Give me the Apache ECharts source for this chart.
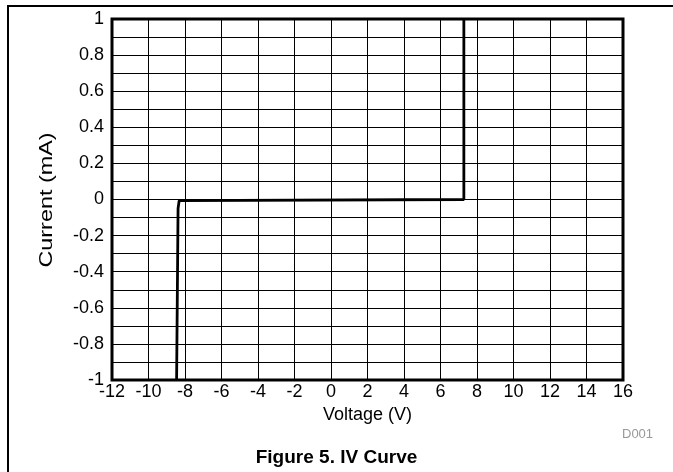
<!DOCTYPE html>
<html>
<head>
<meta charset="utf-8">
<script src="https://cdn.jsdelivr.net/npm/echarts@6/dist/echarts.min.js"></script>
<style>
html,body{margin:0;padding:0;background:#fff;}
#topline{position:absolute;left:8px;top:5px;width:665px;height:2px;background:#000;}
#leftline{position:absolute;left:7px;top:5px;width:2px;height:467px;background:#000;}
#chart{position:absolute;left:0;top:0;width:673px;height:472px;}
</style>
</head>
<body>
<div id="chart"></div>
<div id="topline"></div>
<div id="leftline"></div>
<script>
const voltage = [-8.46, -8.38, -8.32, -8.26, 7.28, 7.28];
const current = [-1, -0.05, -0.006, 0, 0, 1];
const xTicks = ['-12','-10','-8','-6','-4','-2','0','2','4','6','8','10','12','14','16'];
const yTicks = ['-1','-0.8','-0.6','-0.4','-0.2','0','0.2','0.4','0.6','0.8','1'];
const xTitle = 'Voltage (V)';
const yTitle = 'Current (mA)';
const figTitle = 'Figure 5. IV Curve';
const figId = 'D001';

const chart = echarts.init(document.getElementById('chart'), null, {renderer:'canvas'});
const font = 'Liberation Sans, Arial, sans-serif';
chart.setOption({
  animation:false,
  backgroundColor:'#fff',
  textStyle:{fontFamily:font},
  title:[
    {text:figTitle, left:'center', top:443, textStyle:{fontFamily:font, fontSize:19, fontWeight:'bold', color:'#000'}},
    {text:figId, left:617, top:423, textStyle:{fontFamily:font, fontSize:13, fontWeight:'normal', color:'#999'}}
  ],
  graphic:[{
    type:'text', x:47, y:200, rotation:Math.PI/2, scaleX:1.3,
    style:{text:yTitle, fill:'#000', font:'18px ' + font, align:'center', verticalAlign:'middle'}
  }],
  grid:{left:112, right:50, top:19, bottom:92, show:true, borderColor:'#000', borderWidth:3, backgroundColor:'transparent'},
  xAxis:{
    type:'value', min:-12, max:16, interval:2,
    name:xTitle, nameLocation:'middle', nameGap:23,
    nameTextStyle:{fontFamily:font, fontSize:18, color:'#000'},
    axisLine:{show:false}, axisTick:{show:false},
    axisLabel:{fontFamily:font, fontSize:18, color:'#000', margin:3,
      formatter:function(v){ const i = Math.round((v+12)/2); return xTicks[i]; }},
    splitLine:{show:true, lineStyle:{color:'#000', width:1}}
  },
  yAxis:{
    type:'value', min:-1, max:1, interval:0.2,
    axisLine:{show:false}, axisTick:{show:false},
    axisLabel:{fontFamily:font, fontSize:18, color:'#000', margin:8,
      formatter:function(v){ const i = Math.round((v+1)/0.2); return yTicks[i]; }},
    splitLine:{show:true, lineStyle:{color:'#000', width:1}},
    minorTick:{show:false, splitNumber:2},
    minorSplitLine:{show:true, lineStyle:{color:'#000', width:1}}
  },
  series:[{
    type:'line',
    data:voltage.map((v,i)=>[v,current[i]]),
    showSymbol:false, symbol:'none',
    lineStyle:{color:'#000', width:2.8},
    clip:true
  }]
});
</script>
</body>
</html>
